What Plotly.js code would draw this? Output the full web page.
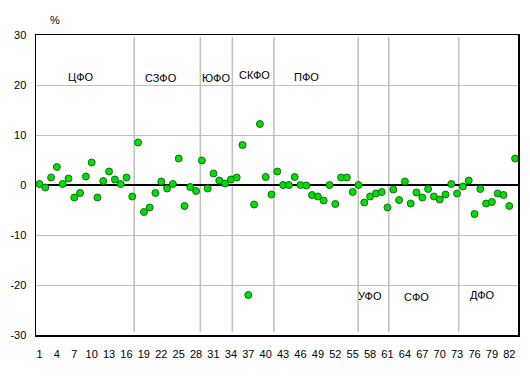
<!DOCTYPE html>
<html>
<head>
<meta charset="utf-8">
<script src="https://cdn.plot.ly/plotly-3.0.1.min.js"></script>
<style>html,body{margin:0;padding:0;background:#fff}#chart{width:530px;height:377px}</style>
</head>
<body>
<div id="chart"></div>
<script>
// Region index (1..83) and value, %
const regionIndex = Array.from({length: 83}, (_, i) => i + 1);
const values = [
  0.2, -0.5, 1.5, 3.6, 0.2, 1.3, -2.5, -1.6, 1.7, 4.5,
  -2.5, 0.8, 2.7, 1.1, 0.2, 1.5, -2.3, 8.5, -5.4, -4.5,
  -1.6, 0.7, -0.7, 0.2, 5.3, -4.2, -0.4, -1.2, 4.9, -0.7,
  2.3, 0.9, 0.3, 1.1, 1.5, 8.0, -22.0, -3.9, 12.2, 1.6,
  -1.9, 2.7, 0.0, 0.0, 1.6, 0.0, -0.1, -2.0, -2.3, -3.1,
  0.0, -3.8, 1.5, 1.5, -1.4, 0.0, -3.5, -2.3, -1.7, -1.4,
  -4.5, -0.9, -3.0, 0.7, -3.7, -1.5, -2.5, -0.8, -2.3, -2.9,
  -1.9, 0.2, -1.7, -0.3, 0.9, -5.8, -0.8, -3.7, -3.4, -1.7,
  -2.0, -4.2, 5.3
];
// District separators (positions on the region axis) and labels
const separators = [17.33, 28.73, 34.25, 41.41, 55.95, 61.22, 73.28];
const districtNames = ["ЦФО", "СЗФО", "ЮФО", "СКФО", "ПФО", "УФО", "СФО", "ДФО"];
const districtLabelX = [8.2, 22.0, 31.5, 38.1, 47.05, 57.9, 66.05, 77.4];
const districtLabelY = [21.6, 21.4, 21.5, 22.0, 21.6, -22.1, -22.3, -22.0];
const xTickVals = Array.from({length: 28}, (_, i) => 1 + 3 * i);
const yTickVals = [-30, -20, -10, 0, 10, 20, 30];

const font = {family: "Liberation Sans, Arial, sans-serif", size: 11, color: "#000"};

const shapes = separators.map(s => ({
  type: "line", xref: "x", yref: "y", x0: s, x1: s, y0: -29.4, y1: 29.6,
  line: {color: "#c0c0c0", width: 1.5}, layer: "below"
}));

const annotations = districtNames.map((n, i) => ({
  text: n, x: districtLabelX[i], y: districtLabelY[i], xref: "x", yref: "y",
  showarrow: false, font: font, xanchor: "center", yanchor: "middle"
}));
annotations.push({text: "%", xref: "paper", yref: "paper", x: (55 - 36) / 482.5, y: 1 + (35 - 20) / 300,
  showarrow: false, font: font, xanchor: "center", yanchor: "middle"});

Plotly.newPlot("chart", [{
  type: "scatter", mode: "markers", x: regionIndex, y: values,
  marker: {size: 7, color: "#00e000", line: {color: "#1a6a1a", width: 1}},
  hoverinfo: "x+y"
}], {
  width: 530, height: 377,
  margin: {l: 36, r: 12, t: 35, b: 42},
  paper_bgcolor: "#fff", plot_bgcolor: "#fff",
  showlegend: false,
  font: font,
  xaxis: {
    range: [0.4, 83.5], tickvals: xTickVals, ticktext: xTickVals.map(String),
    showgrid: false, zeroline: false, showline: true, mirror: true,
    linecolor: "#000", linewidth: 1.5, ticks: "", ticklabelstandoff: 8, tickfont: font
  },
  yaxis: {
    range: [-30, 30], tickvals: yTickVals, ticktext: yTickVals.map(String),
    showgrid: true, gridcolor: "#c0c0c0", gridwidth: 1,
    zeroline: true, zerolinecolor: "#000", zerolinewidth: 1.5,
    showline: true, mirror: true, linecolor: "#000", linewidth: 1.5,
    ticks: "", ticklabelstandoff: 6, tickfont: font
  },
  shapes: shapes,
  annotations: annotations
}, {displayModeBar: false, staticPlot: true});
</script>
</body>
</html>
